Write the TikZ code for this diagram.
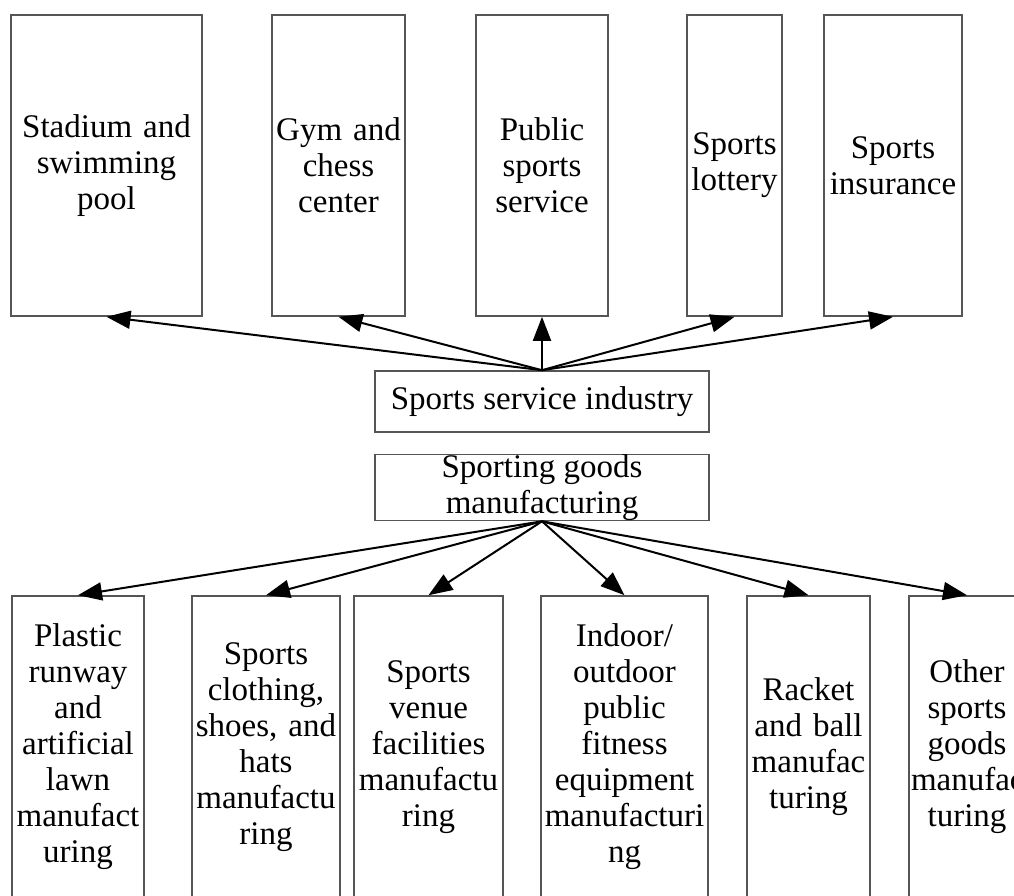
\documentclass[tikz,border=0pt]{standalone}
\usepackage{fontspec}
\setmainfont{Liberation Serif}
\usetikzlibrary{arrows.meta}
\definecolor{boxgray}{HTML}{555555}
\tikzset{
  box/.style={draw=boxgray, line width=1.6pt, rectangle, inner sep=0pt, align=center,
    font=\fontsize{33}{36}\selectfont},
  tall/.style={box, minimum height=301pt},
  wide/.style={box, minimum width=334pt, minimum height=61pt},
  link/.style={draw=black, line width=2pt, -{Triangle[length=24pt,width=18pt]}}
}
\begin{document}
\begin{tikzpicture}[x=1pt,y=-1pt]
\useasboundingbox (0,0) rectangle (1014,895);
\clip (0,0) rectangle (1014,895);
% top row
\node[tall, minimum width=191pt, text width=187pt] (t1) at (106.5,165.5) {Stadium and\\swimming\\pool};
\node[tall, minimum width=133pt, text width=129pt] (t2) at (338.5,165.5) {Gym and\\chess\\center};
\node[tall, minimum width=132pt, text width=128pt] (t3) at (542,165.5) {Public\\sports\\service};
\node[tall, minimum width=95pt, text width=91pt] (t4) at (734.5,165.5) {Sports\\lottery};
\node[tall, minimum width=138pt, text width=134pt] (t5) at (893,165.5) {Sports\\insurance};
% middle
\node[wide] (svc) at (542,401.5) {Sports service industry};
\node[wide] (goods) at (542,487.5) {Sporting goods\\manufacturing};
% bottom row
\node[tall, minimum height=302pt, minimum width=132pt, text width=128pt] (b1) at (78,747) {Plastic\\runway\\and\\artificial\\lawn\\manufact\\uring};
\node[tall, minimum height=302pt, minimum width=148pt, text width=144pt] (b2) at (266,747) {Sports\\clothing,\\shoes, and\\hats\\manufactu\\ring};
\node[tall, minimum height=302pt, minimum width=149pt, text width=145pt] (b3) at (428.5,747) {Sports\\venue\\facilities\\manufactu\\ring};
\node[tall, minimum height=302pt, minimum width=167pt, text width=163pt] (b4) at (624.5,747) {Indoor/\\outdoor\\public\\fitness\\equipment\\manufacturi\\ng};
\node[tall, minimum height=302pt, minimum width=123pt, text width=119pt] (b5) at (808.5,747) {Racket\\and ball\\manufac\\turing};
\node[tall, minimum height=302pt, minimum width=116pt, text width=112pt] (b6) at (967,747) {Other\\sports\\goods\\manufac\\turing};
% connectors
\foreach \t in {t1,t2,t3,t4,t5} \draw[link] (svc.north) -- (\t.south);
\foreach \b in {b1,b2,b3,b4,b5,b6} \draw[link] (goods.south) -- (\b.north);
\end{tikzpicture}
\end{document}
